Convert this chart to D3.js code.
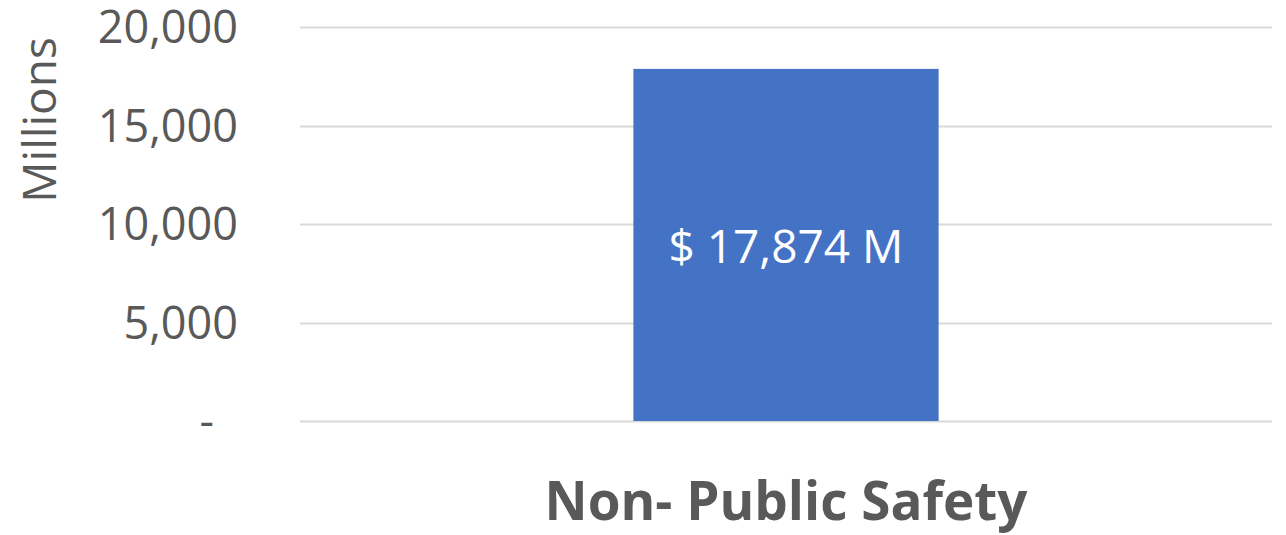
<!DOCTYPE html>
<html>
<head>
<meta charset="utf-8">
<script src="https://cdn.jsdelivr.net/npm/d3@7"></script>
<style>
  body { margin: 0; background: #fff; }
  text { font-family: "Open Sans", sans-serif; }
</style>
</head>
<body>
<div id="chart"></div>
<script>
// chart data
var categories = ["Non- Public Safety"]
var values = [17874]
var barLabels = ["$ 17,874 M"]
var yTicks = [0, 5000, 10000, 15000, 20000]
var yTickLabels = ["-", "5,000", "10,000", "15,000", "20,000"]

var margin = {top: 27, right: 14, bottom: 114, left: 300},
    width = 1286 - margin.left - margin.right,
    height = 535 - margin.top - margin.bottom;

var svg = d3.select("#chart").append("svg")
    .attr("width", 1286)
    .attr("height", 535)
  .append("g")
    .attr("transform", "translate(" + margin.left + "," + margin.top + ")");

var x = d3.scaleBand()
    .domain(categories)
    .range([0, width])
    .paddingInner(0.686)
    .paddingOuter(0.343);

var y = d3.scaleLinear()
    .domain([0, 20000])
    .range([height, 0]);

// gridlines
svg.selectAll(".grid")
    .data(yTicks)
  .enter().append("line")
    .attr("x1", 0)
    .attr("x2", width)
    .attr("y1", d => Math.round(y(d)) + 0.5)
    .attr("y2", d => Math.round(y(d)) + 0.5)
    .attr("stroke", "#d9d9d9")
    .attr("stroke-width", 2);

// y tick labels
svg.selectAll(".ytick")
    .data(yTicks)
  .enter().append("text")
    .attr("x", (d, i) => i == 0 ? -86 : -62)
    .attr("y", d => y(d) + 16)
    .attr("text-anchor", "end")
    .attr("fill", "#595959")
    .style("font-size", "45px")
    .text((d, i) => yTickLabels[i]);

// bars
svg.selectAll(".bar")
    .data(values)
  .enter().append("rect")
    .attr("x", (d, i) => x(categories[i]))
    .attr("width", x.bandwidth())
    .attr("y", d => y(d))
    .attr("height", d => height - y(d))
    .attr("fill", "#4472c4");

// bar value labels
svg.selectAll(".barlabel")
    .data(values)
  .enter().append("text")
    .attr("x", (d, i) => x(categories[i]) + x.bandwidth() / 2)
    .attr("y", d => y(d / 2) + 18)
    .attr("text-anchor", "middle")
    .attr("fill", "#fff")
    .style("font-size", "46px")
    .text((d, i) => barLabels[i]);

// category labels
svg.selectAll(".xlabel")
    .data(categories)
  .enter().append("text")
    .attr("x", d => x(d) + x.bandwidth() / 2)
    .attr("y", height + 99)
    .attr("text-anchor", "middle")
    .attr("fill", "#595959")
    .style("font-size", "53px")
    .style("font-weight", "bold")
    .text(d => d);

// y axis title
svg.append("text")
    .attr("transform", "translate(" + (56 - margin.left) + "," + (120 - margin.top) + ") rotate(-90)")
    .attr("text-anchor", "middle")
    .attr("fill", "#595959")
    .style("font-size", "46px")
    .text("Millions");
</script>
</body>
</html>
